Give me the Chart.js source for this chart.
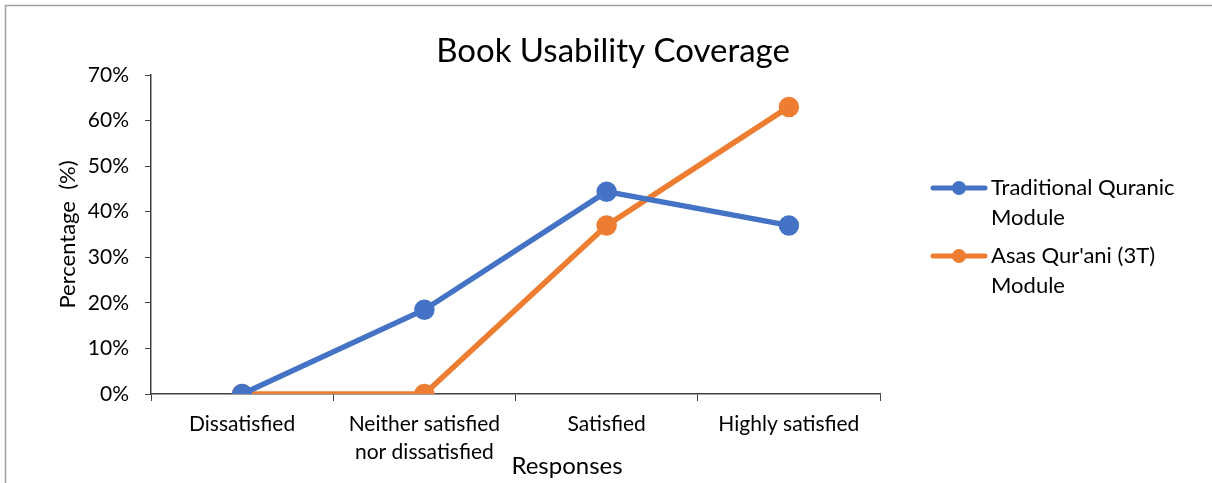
<!DOCTYPE html>
<html>
<head>
<meta charset="utf-8">
<script src="https://cdn.jsdelivr.net/npm/chart.js@4"></script>
<style>
  html, body { margin: 0; padding: 0; background: #fff; }
  #wrap { width: 1212px; height: 483px; }
</style>
</head>
<body>
<div id="wrap"><canvas id="graph1"></canvas></div>
<script>
// chart data
var categories = ['Dissatisfied', ['Neither satisfied', 'nor dissatisfied'], 'Satisfied', 'Highly satisfied'];
var traditional = [0, 18.5, 44.4, 37];
var asasQurani = [0, 0, 37, 63];
var seriesNames = ['Traditional Quranic Module', "Asas Qur'ani (3T) Module"];
var yTicks = [0, 10, 20, 30, 40, 50, 60, 70];

var fontName = 'Lato, "Open Sans", sans-serif';
var axisColor = '#404040';

// grey outer frame and the title
var framePlugin = {
    id: 'frame',
    beforeDraw: function (chart) {
        var ctx = chart.ctx;
        ctx.save();
        ctx.fillStyle = '#fff';
        ctx.fillRect(0, 0, chart.width, chart.height);
        ctx.strokeStyle = '#a0a0a0';
        ctx.lineWidth = 1.5;
        ctx.strokeRect(5.5, 5.5, chart.width + 20, chart.height + 20);
        ctx.fillStyle = '#000';
        ctx.font = '33px ' + fontName;
        ctx.textAlign = 'center';
        ctx.textBaseline = 'middle';
        ctx.fillText('Book Usability Coverage', 613, 51);
        ctx.restore();
    }
};

// legend on the right with wrapped labels, plus the x axis title
var sideLegend = {
    id: 'sideLegend',
    afterDraw: function (chart) {
        var ctx = chart.ctx;
        ctx.save();
        ctx.font = '22px ' + fontName;
        ctx.textBaseline = 'middle';
        ctx.fillStyle = '#000';
        var y = 188;
        chart.data.datasets.forEach(function (ds) {
            ctx.strokeStyle = ds.borderColor;
            ctx.lineWidth = 5;
            ctx.lineCap = 'round';
            ctx.beginPath();
            ctx.moveTo(933, y);
            ctx.lineTo(985, y);
            ctx.stroke();
            ctx.fillStyle = ds.borderColor;
            ctx.beginPath();
            ctx.arc(959, y, 7, 0, Math.PI * 2);
            ctx.fill();
            ctx.fillStyle = '#000';
            // wrap words
            var words = ds.label.split(' ');
            var lines = [];
            var line = '';
            words.forEach(function (w) {
                var test = line ? line + ' ' + w : w;
                if (ctx.measureText(test).width > 205 && line) {
                    lines.push(line);
                    line = w;
                } else {
                    line = test;
                }
            });
            lines.push(line);
            lines.forEach(function (l, i) {
                ctx.fillText(l, 991, y + i * 30);
            });
            y += lines.length * 30 + 8;
        });
        ctx.font = '24px ' + fontName;
        ctx.textAlign = 'center';
        ctx.fillText('Responses', 567, 466);
        ctx.restore();
    }
};

var context = document.getElementById('graph1').getContext('2d');
var chart = new Chart(context, {
    type: 'line',
    data: {
        labels: categories,
        datasets: [
            {
                label: seriesNames[0],
                data: traditional,
                borderColor: '#4472C4',
                backgroundColor: '#4472C4',
                borderWidth: 5.5,
                pointRadius: 7.5,
                pointHoverRadius: 7.5,
                tension: 0
            },
            {
                label: seriesNames[1],
                data: asasQurani,
                borderColor: '#ED7D31',
                backgroundColor: '#ED7D31',
                borderWidth: 5.5,
                pointRadius: 7.5,
                pointHoverRadius: 7.5,
                tension: 0
            }
        ]
    },
    options: {
        responsive: true,
        maintainAspectRatio: false,
        animation: false,
        layout: { padding: { left: 0, right: 332, top: 75, bottom: 0 } },
        plugins: {
            legend: { display: false },
            tooltip: { enabled: false },
            title: { display: false }
        },
        scales: {
            x: {
                offset: true,
                grid: {
                    offset: true,
                    drawOnChartArea: false,
                    drawTicks: true,
                    tickLength: 7,
                    color: axisColor
                },
                border: { display: true, color: axisColor, width: 1.5 },
                ticks: {
                    color: '#000',
                    font: { family: fontName, size: 21, lineHeight: 1.33 },
                    padding: 9,
                    maxRotation: 0,
                    autoSkip: false
                },
                afterFit: function (scale) { scale.height = 89; }
            },
            y: {
                min: 0,
                max: 70,
                afterBuildTicks: function (scale) {
                    scale.ticks = yTicks.map(function (v) { return { value: v }; });
                },
                grid: {
                    drawOnChartArea: false,
                    drawTicks: true,
                    tickLength: 6,
                    color: axisColor
                },
                border: { display: true, color: axisColor, width: 1.5 },
                ticks: {
                    color: '#000',
                    font: { family: fontName, size: 21 },
                    padding: 16,
                    callback: function (v) { return v + '%'; }
                },
                title: {
                    display: true,
                    text: 'Percentage  (%)',
                    color: '#000',
                    font: { family: fontName, size: 22 },
                    padding: { top: 55, bottom: 0 }
                },
                afterFit: function (scale) { scale.width = 151; }
            }
        }
    },
    plugins: [framePlugin, sideLegend]
});
</script>
</body>
</html>
